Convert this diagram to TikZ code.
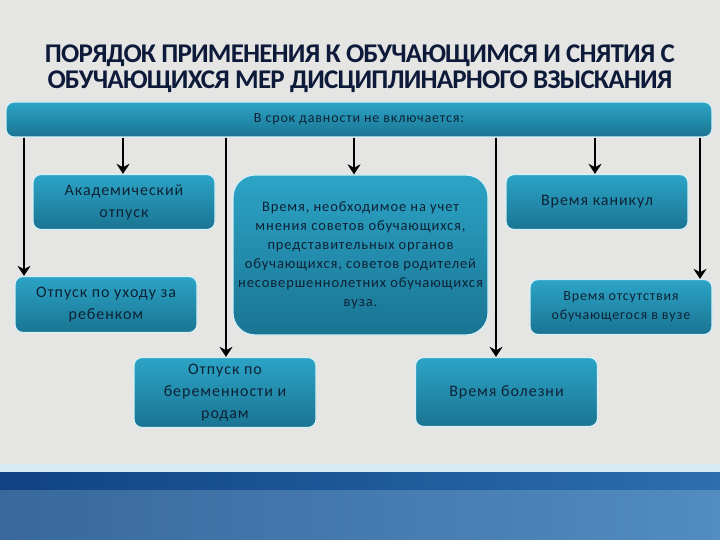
\documentclass[tikz,border=0pt]{standalone}
\usepackage{fontspec}
\setmainfont{Carlito}
\newfontfamily\boxfont[LetterSpace=6]{Carlito}
\newfontfamily\titlefont[LetterSpace=-3]{Carlito}
\usepackage{tikz}
\usetikzlibrary{arrows.meta, positioning, calc}
\definecolor{mybg}{RGB}{229,229,227}
\definecolor{mytitle}{RGB}{14,26,58}
\definecolor{mytext}{RGB}{14,34,54}
\definecolor{boxtop}{RGB}{44,164,198}
\definecolor{boxbot}{RGB}{26,116,146}
\definecolor{myglow}{RGB}{212,240,246}
\definecolor{bandpale}{RGB}{214,236,242}
\definecolor{banddarkl}{RGB}{16,66,132}
\definecolor{banddarkr}{RGB}{44,110,174}
\definecolor{bandlowl}{RGB}{56,104,156}
\definecolor{bandlowr}{RGB}{82,140,192}
\tikzset{
  catbox/.style={rectangle, draw=myglow, line width=1.2pt,
    top color=boxtop, bottom color=boxbot, rounded corners=8pt,
    minimum width=182pt, minimum height=55pt, inner sep=0pt,
    align=center, text=mytext, font=\boxfont\fontsize{16}{22}\selectfont},
  bigbox/.style={catbox, rounded corners=22pt,
    minimum width=255pt, minimum height=160pt,
    font=\boxfont\fontsize{14.5}{19}\selectfont},
  arrow/.style={-{Stealth[length=10pt, width=13pt]}, line width=2.4pt, color=black}
}
\begin{document}
\begin{tikzpicture}[x=1pt, y=-1pt]
  % ── Background ─────────────────────────────────────────────────────────────
  \useasboundingbox (0,0) rectangle (720,540);
  \fill[mybg] (0,0) rectangle (720,540);
  % Bottom band
  \fill[bandpale] (0,464) rectangle (720,472);
  \shade[left color=banddarkl, right color=banddarkr] (0,472) rectangle (720,490);
  \shade[left color=bandlowl, right color=bandlowr] (0,490) rectangle (720,540);

  % ── Title ──────────────────────────────────────────────────────────────────
  \node[font=\titlefont\bfseries\fontsize{27}{26}\selectfont, text=mytitle, align=center]
    (title) at (360,69) {ПОРЯДОК ПРИМЕНЕНИЯ К ОБУЧАЮЩИМСЯ И СНЯТИЯ С\\ОБУЧАЮЩИХСЯ МЕР ДИСЦИПЛИНАРНОГО ВЗЫСКАНИЯ};

  % ── Header bar ─────────────────────────────────────────────────────────────
  \node[catbox, minimum width=706pt, minimum height=35pt,
    font=\boxfont\fontsize{14}{17}\selectfont] (bar) at (359,119.5) {В срок давности не включается:};

  % ── Periods ────────────────────────────────────────────────────────────────
  \node[catbox] (akad) at (124,202) {Академический\\отпуск};
  \node[catbox, minimum height=56pt] (uhod) at (106,304.5) {Отпуск по уходу за\\ребенком};
  \node[catbox, minimum height=70pt] (berem) at (225,392.5) {Отпуск по\\беременности и\\родам};
  \node[bigbox] (vrem) at (360.5,255) {Время, необходимое на учет\\мнения советов обучающихся,\\представительных органов\\обучающихся, советов родителей\\несовершеннолетних обучающихся\\вуза.};
  \node[catbox] (kanik) at (597,202) {Время каникул};
  \node[catbox, font=\boxfont\fontsize{14}{19}\selectfont] (otsut) at (621,307) {Время отсутствия\\обучающегося в вузе};
  \node[catbox, minimum height=69pt] (bolezn) at (506.5,392) {Время болезни};

  % ── Connectors ─────────────────────────────────────────────────────────────
  \foreach \x/\n in {24/uhod, 123/akad, 226/berem, 354/vrem, 496/bolezn, 595/kanik, 700/otsut}
    \draw[arrow] (\x,0 |- bar.south) -- (\x,0 |- \n.north);
\end{tikzpicture}
\end{document}
